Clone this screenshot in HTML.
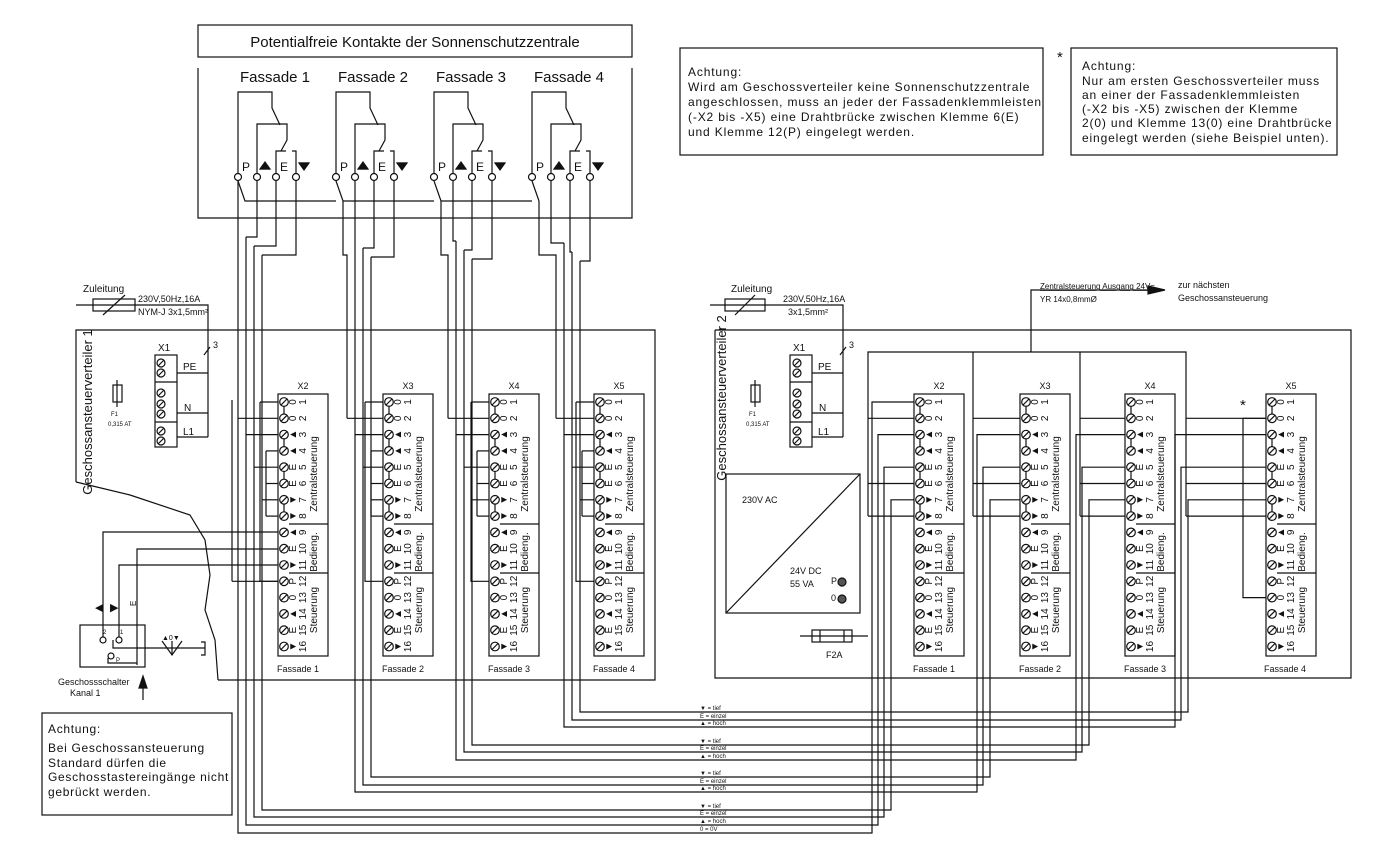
<!DOCTYPE html>
<html><head><meta charset="utf-8">
<style>
html,body{margin:0;padding:0;background:#fff;}
svg{display:block;font-family:"Liberation Sans",sans-serif;}
.s{font-size:10px;fill:#111;}
.m{font-size:12px;fill:#111;letter-spacing:0.85px;}
.l{font-size:15px;fill:#111;}
.t{font-size:6px;fill:#111;}
.bk text{font-size:10px;fill:#111;text-anchor:middle;dominant-baseline:central;}
</style></head><body>
<svg id="d" width="1386" height="867" viewBox="0 0 1386 867" xmlns="http://www.w3.org/2000/svg">
<g id="g" stroke="#111" stroke-width="1.2" fill="none"></g>

<text class="l" x="415" y="47" text-anchor="middle">Potentialfreie Kontakte der Sonnenschutzzentrale</text>
<text class="l" x="275" y="82" text-anchor="middle">Fassade 1</text>
<text class="l" x="373" y="82" text-anchor="middle">Fassade 2</text>
<text class="l" x="471" y="82" text-anchor="middle">Fassade 3</text>
<text class="l" x="569" y="82" text-anchor="middle">Fassade 4</text>
<g class="s" style="font-size:12px">
<text x="242" y="171">P</text><text x="280" y="171">E</text>
<text x="340" y="171">P</text><text x="378" y="171">E</text>
<text x="438" y="171">P</text><text x="476" y="171">E</text>
<text x="536" y="171">P</text><text x="574" y="171">E</text>
</g>

<text class="m" x="688" y="76">Achtung:</text>
<text class="m" x="688" y="91">Wird am Geschossverteiler keine Sonnenschutzzentrale</text>
<text class="m" x="688" y="106">angeschlossen, muss an jeder der Fassadenklemmleisten</text>
<text class="m" x="688" y="121">(-X2 bis -X5) eine Drahtbrücke zwischen Klemme 6(E)</text>
<text class="m" x="688" y="136">und Klemme 12(P) eingelegt werden.</text>
<text class="l" x="1057" y="62">*</text>
<text class="m" x="1082" y="70">Achtung:</text>
<text class="m" x="1082" y="85">Nur am ersten Geschossverteiler muss</text>
<text class="m" x="1082" y="99">an einer der Fassadenklemmleisten</text>
<text class="m" x="1082" y="113">(-X2 bis -X5) zwischen der Klemme</text>
<text class="m" x="1082" y="127">2(0) und Klemme 13(0) eine Drahtbrücke</text>
<text class="m" x="1082" y="142">eingelegt werden (siehe Beispiel unten).</text>

<text class="s" x="83" y="292">Zuleitung</text>
<text class="s" x="138" y="302" style="font-size:9px">230V,50Hz,16A</text>
<text class="s" x="138" y="315" style="font-size:9px">NYM-J 3x1,5mm²</text>
<text class="m" transform="translate(92,412) rotate(-90)" text-anchor="middle" style="font-size:13px;letter-spacing:0">Geschossansteuerverteiler 1</text>
<text class="s" x="158" y="351">X1</text>
<text class="s" x="183" y="370">PE</text><text class="s" x="184" y="411">N</text><text class="s" x="183" y="435">L1</text>
<text class="s" x="213" y="348" style="font-size:9px">3</text>
<text class="t" x="111" y="416">F1</text><text class="t" x="108" y="426">0,315 AT</text>

<text class="s" x="731" y="292">Zuleitung</text>
<text class="s" x="783" y="302" style="font-size:9px">230V,50Hz,16A</text>
<text class="s" x="788" y="315" style="font-size:9px">3x1,5mm²</text>
<text class="m" transform="translate(726,398) rotate(-90)" text-anchor="middle" style="font-size:13px;letter-spacing:0">Geschossansteuerverteiler 2</text>
<text class="s" x="793" y="351">X1</text>
<text class="s" x="818" y="370">PE</text><text class="s" x="819" y="411">N</text><text class="s" x="818" y="435">L1</text>
<text class="s" x="849" y="348" style="font-size:9px">3</text>
<text class="t" x="749" y="416">F1</text><text class="t" x="746" y="426">0,315 AT</text>
<text class="s" x="1040" y="289" style="font-size:8px;text-decoration:underline">Zentralsteuerung Ausgang 24V=</text>
<text class="s" x="1040" y="302" style="font-size:8px">YR 14x0,8mmØ</text>
<text class="s" x="1178" y="288" style="font-size:9px">zur nächsten</text>
<text class="s" x="1178" y="301" style="font-size:9px">Geschossansteuerung</text>
<text class="s" x="742" y="503" style="font-size:9px">230V AC</text>
<text class="s" x="790" y="574" style="font-size:9px">24V DC</text>
<text class="s" x="790" y="587" style="font-size:9px">55 VA</text>
<text class="s" x="831" y="584" style="font-size:9px">P</text>
<text class="s" x="831" y="601" style="font-size:9px">0</text>
<text class="s" x="826" y="658" style="font-size:9px">F2A</text>

<g class="s" text-anchor="middle" style="font-size:9px">
<text x="303" y="389">X2</text><text x="408" y="389">X3</text><text x="514" y="389">X4</text><text x="619" y="389">X5</text>
<text x="939" y="389">X2</text><text x="1045" y="389">X3</text><text x="1150" y="389">X4</text><text x="1291" y="389">X5</text>
<text x="298" y="672">Fassade 1</text><text x="403" y="672">Fassade 2</text><text x="509" y="672">Fassade 3</text><text x="614" y="672">Fassade 4</text>
<text x="934" y="672">Fassade 1</text><text x="1040" y="672">Fassade 2</text><text x="1145" y="672">Fassade 3</text><text x="1285" y="672">Fassade 4</text>
</g>
<text class="l" x="1240" y="410">*</text>

<text class="s" x="95" y="611" style="font-size:11px">◀</text>
<text class="s" x="110" y="611" style="font-size:11px">▶</text>
<text class="s" x="132" y="610" transform="rotate(-90 132 606)" style="font-size:8px">E</text>
<text class="t" x="103" y="634">2</text><text class="t" x="120" y="634">1</text><text class="t" x="116" y="662">P</text>
<text class="t" x="162" y="640" style="font-size:7px">▲0▼</text>
<text class="s" x="58" y="685" style="font-size:9px">Geschossschalter</text>
<text class="s" x="70" y="696" style="font-size:9px">Kanal 1</text>
<text class="m" x="48" y="733" style="letter-spacing:0.7px">Achtung:</text>
<text class="m" x="48" y="752" style="letter-spacing:0.7px">Bei Geschossansteuerung</text>
<text class="m" x="48" y="767" style="letter-spacing:0.7px">Standard dürfen die</text>
<text class="m" x="48" y="781" style="letter-spacing:0.7px">Geschosstastereingänge nicht</text>
<text class="m" x="48" y="796" style="letter-spacing:0.7px">gebrückt werden.</text>

<g class="t">
<text x="700" y="710">▼ = tief</text><text x="700" y="718">E = einzel</text><text x="700" y="725">▲ = hoch</text>
<text x="700" y="743">▼ = tief</text><text x="700" y="750">E = einzel</text><text x="700" y="758">▲ = hoch</text>
<text x="700" y="775">▼ = tief</text><text x="700" y="783">E = einzel</text><text x="700" y="790">▲ = hoch</text>
<text x="700" y="808">▼ = tief</text><text x="700" y="815">E = einzel</text><text x="700" y="823">▲ = hoch</text><text x="700" y="831">0 = 0V</text>
</g>

<g id="bt">
<g class="bk" transform="translate(278,394)"><text transform="rotate(-90)"><tspan x="-8" y="15">0</tspan><tspan x="-24.3" y="15">0</tspan><tspan x="-40.6" y="15">▲</tspan><tspan x="-56.9" y="15">▲</tspan><tspan x="-73.2" y="15">E</tspan><tspan x="-89.5" y="15">E</tspan><tspan x="-105.8" y="15">▼</tspan><tspan x="-122.1" y="15">▼</tspan><tspan x="-138.4" y="15">▲</tspan><tspan x="-154.7" y="15">E</tspan><tspan x="-171" y="15">▼</tspan><tspan x="-187.3" y="15">P</tspan><tspan x="-203.6" y="15">0</tspan><tspan x="-219.9" y="15">▲</tspan><tspan x="-236.2" y="15">E</tspan><tspan x="-252.5" y="15">▼</tspan></text><text transform="rotate(-90)"><tspan x="-8" y="25">1</tspan><tspan x="-24.3" y="25">2</tspan><tspan x="-40.6" y="25">3</tspan><tspan x="-56.9" y="25">4</tspan><tspan x="-73.2" y="25">5</tspan><tspan x="-89.5" y="25">6</tspan><tspan x="-105.8" y="25">7</tspan><tspan x="-122.1" y="25">8</tspan><tspan x="-138.4" y="25">9</tspan><tspan x="-154.7" y="25">10</tspan><tspan x="-171" y="25">11</tspan><tspan x="-187.3" y="25">12</tspan><tspan x="-203.6" y="25">13</tspan><tspan x="-219.9" y="25">14</tspan><tspan x="-236.2" y="25">15</tspan><tspan x="-252.5" y="25">16</tspan></text><text transform="rotate(-90)"><tspan x="-80" y="36">Zentralsteuerung</tspan><tspan x="-158" y="36">Bedieng.</tspan><tspan x="-216" y="36">Steuerung</tspan></text></g>
</g>
</svg>
<script>
(function(){
var g=document.getElementById('g'),NS='http://www.w3.org/2000/svg';
function el(n,a){var e=document.createElementNS(NS,n);for(var k in a)e.setAttribute(k,a[k]);g.appendChild(e);return e;}
function L(){var p=[];for(var i=0;i<arguments.length;i+=2)p.push(arguments[i]+','+arguments[i+1]);el('polyline',{points:p.join(' ')});}
function R(x,y,w,h){el('rect',{x:x,y:y,width:w,height:h});}
function C(x,y,r,f){el('circle',{cx:x,cy:y,r:r,fill:f||'#fff'});}
function Tri(x,y,dir){el('polygon',{points:dir>0?(x-5)+','+(y+3)+' '+(x+5)+','+(y+3)+' '+x+','+(y-4):(x-5)+','+(y-3)+' '+(x+5)+','+(y-3)+' '+x+','+(y+4),fill:'#111'});}
R(198,25,434,32);L(198,68,198,218,632,218,632,68);
R(680,48,363,107);R(1071,48,266,107);
for(var k=0;k<4;k++){var rx=238+98*k;
 L(rx,173,rx,92,rx+34,92,rx+34,108,rx+42,125);
 L(rx+19,173,rx+19,124,rx+49,124,rx+49,140,rx+43,151);
 L(rx+38,173,rx+38,151,rx+48,151);L(rx+58,173,rx+58,151,rx+54,151);
 Tri(rx+27,166,1);Tri(rx+66,166,-1);
 L(rx+22,169,rx+32,169);L(rx+61,163,rx+71,163);
 if(k<3)L(rx,181,rx+7,201,rx+98,201);else L(rx,181,rx+7,201);
 C(rx,177,3.5);C(rx+19,177,3.5);C(rx+38,177,3.5);C(rx+58,177,3.5);
}
L(76,482,76,330,655,330,655,680,218,680);
L(76,482,130,495,190,515,205,540,210,575,205,610,215,640,218,680);
L(715,330,1351,330,1351,678,715,678,715,330);
L(76,305,208,305,208,437);R(93,299,42,12);L(103,315,125,295);
L(177,373,208,373);L(177,413,208,413);L(177,437,208,437);L(204,355,210,347);
R(155,355,22,92);L(155,382,177,382);L(155,422,177,422);
R(113,385,9,17);L(117,380,117,407);
L(710,305,843,305,843,437);R(725,299,40,12);L(735,315,755,295);
L(812,373,843,373);L(812,413,843,413);L(812,437,843,437);L(840,355,846,347);
R(790,355,22,92);L(790,382,812,382);L(790,422,812,422);
R(751,385,9,17);L(755,380,755,407);
function x1screws(x){[363,373,393,404,414,431,441].forEach(function(y){C(x,y,4);L(x-3,y+3,x+3,y-3);});}
x1screws(161);x1screws(797);
L(868,516,868,352,1186,352,1186,516);L(973,352,973,516);L(1080,352,1080,516);
L(1031,352,1031,290,1150,290);el('polygon',{points:'1148,286 1165,290 1148,294',fill:'#111'});
R(726,474,134,139);L(726,613,860,474);C(842,582,4,'#555');C(842,599,4,'#555');
L(800,636,868,636);R(812,630,40,12);L(820,630,820,642);L(844,630,844,642);
var BX1=[278,383,489,594],BX2=[914,1020,1125,1266],ry=function(i){return 402+16.3*i;};
function block(bx){R(bx,394,50,262);L(bx+11,524,bx+50,524);L(bx+11,573,bx+50,573);
 for(var i=0;i<16;i++){var y=ry(i);C(bx+6,y,4.3);L(bx+3,y+3,bx+9,y-3);}
 [0,2,4,6].forEach(function(i){L(bx+6,ry(i)+4.3,bx+6,ry(i+1)-4.3);});}
BX1.concat(BX2).forEach(block);
var bt=document.getElementById('bt'),src=bt.firstElementChild;
BX1.concat(BX2).forEach(function(bx,i){if(i==0)return;var c=src.cloneNode(true);c.setAttribute('transform','translate('+bx+',394)');bt.appendChild(c);});
var GX=[238,347,448,556];
var busY=[[833,825,817,810],[792,785,777],[760,752,745],[727,720,712]];
var RV=[[872,878,884,891],[977,983,990],[1076,1082,1089],[1175,1181,1188]];
for(var k=0;k<4;k++){var rx=238+98*k,gx=GX[k],bx=BX1[k],b2=BX2[k];
 var v=[gx,gx+8,gx+16,gx+24];
 if(k==0)L(rx,181,rx,210,v[0],210);else L(rx+7,201,rx+7,255,v[0],255,v[0],ry(1));
 for(var j=1;j<4;j++){var tx=rx+[0,19,38,58][j],yy=228+j*9+k*2;L(tx,181,tx,yy,v[j],yy);}
 L(v[0],ry(1),bx,ry(1));L(v[1],ry(2),bx,ry(2));L(v[2],ry(4),bx,ry(4));L(v[3],ry(6),bx,ry(6));
 L(bx-12,ry(3),bx,ry(3));L(bx-12,ry(5),bx,ry(5));L(bx-12,ry(7),bx,ry(7));L(bx-12,ry(3),bx-12,ry(7));
 L(bx-18,ry(0),bx,ry(0));L(bx-18,ry(0),bx-18,ry(11),bx,ry(11));
 var by=busY[k],rv=RV[k];
 if(k==0){L(v[0],210,v[0],by[0],rv[0],by[0],rv[0],ry(0),b2,ry(0));
   for(var j=1;j<4;j++){L(v[j],228+j*9,v[j],by[j],rv[j],by[j],rv[j],ry(2*j),b2,ry(2*j));}}
 else{for(var j=1;j<4;j++){L(v[j],228+j*9+k*2,v[j],by[j-1],rv[j-1],by[j-1],rv[j-1],ry(2*j),b2,ry(2*j));}}
}
[[868,914],[973,1020],[1080,1125],[1186,1266]].forEach(function(p){
 [1,5,7].forEach(function(i){L(p[0],ry(i),p[1],ry(i));});});
L(1243,ry(1),1266,ry(1));L(1243,ry(1),1243,ry(12),1266,ry(12));
L(103,640,103,532,278,532);L(137,665,137,549,278,549);L(119,640,119,565,278,565);
L(232,ry(11),278,ry(11));L(232,ry(11),232,400);
R(80,625,65,42);C(103,640,3);C(119,640,3);C(111,656,3);
L(113,640,113,648,145,648,205,648);L(108,658,108,663,137,663);
L(201,642,205,642,205,655,201,655);L(162,641,172,655,182,641);L(172,641,172,655);
L(143,700,143,680);el('polygon',{points:'139,688 143,676 147,688',fill:'#111'});
R(42,713,190,102);
})();
</script>
</body></html>
